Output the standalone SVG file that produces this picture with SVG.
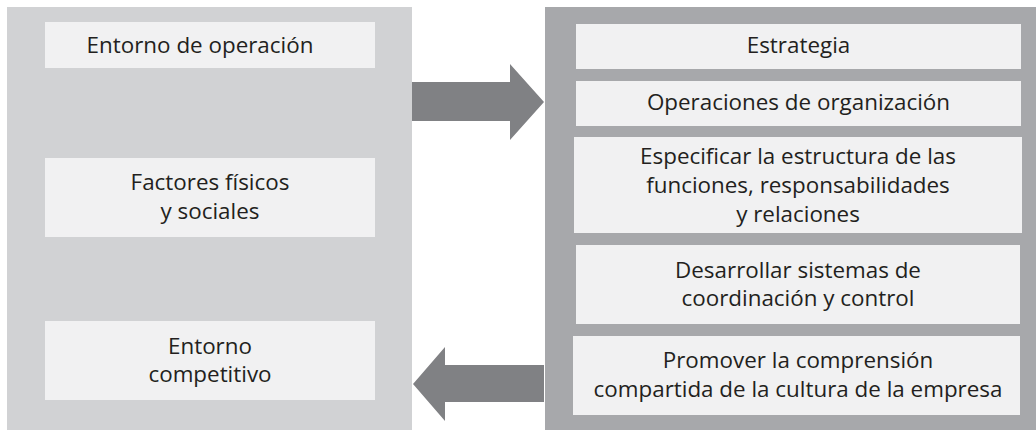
<svg xmlns="http://www.w3.org/2000/svg" width="1036" height="430" viewBox="0 0 1036 430">
<style>
.box{fill:#f1f1f2}
.t{font-family:"Open Sans","DejaVu Sans",sans-serif;font-size:22.4px;fill:#231f20;text-anchor:middle}
.arrow{fill:#808184}
</style>
<rect width="1036" height="430" fill="#ffffff"/>
<g id="left-panel">
<rect x="7" y="7" width="405" height="423" fill="#d1d2d4"/>
</g>
<g id="right-panel">
<rect x="545" y="7" width="491" height="423" fill="#a7a8ab"/>
</g>
<g id="n-entorno-operacion">
<rect class="box" x="45" y="22" width="330" height="46"/>
<text class="t" x="200" y="53">Entorno de operación</text>
</g>
<g id="n-factores">
<rect class="box" x="45" y="158" width="330" height="79"/>
<text class="t" x="210" y="190">Factores físicos</text>
<text class="t" x="210" y="219">y sociales</text>
</g>
<g id="n-entorno-competitivo">
<rect class="box" x="45" y="321" width="330" height="79"/>
<text class="t" x="210" y="354">Entorno</text>
<text class="t" x="210" y="382">competitivo</text>
</g>
<g id="n-estrategia">
<rect class="box" x="576" y="24" width="445" height="45"/>
<text class="t" x="798.5" y="53">Estrategia</text>
</g>
<g id="n-operaciones">
<rect class="box" x="576" y="81" width="445" height="45"/>
<text class="t" x="798.5" y="110">Operaciones de organización</text>
</g>
<g id="n-especificar">
<rect class="box" x="574" y="137" width="448" height="96"/>
<text class="t" x="798" y="164">Especificar la estructura de las</text>
<text class="t" x="798" y="193">funciones, responsabilidades</text>
<text class="t" x="798" y="222">y relaciones</text>
</g>
<g id="n-desarrollar">
<rect class="box" x="576" y="245" width="444" height="79"/>
<text class="t" x="798" y="278">Desarrollar sistemas de</text>
<text class="t" x="798" y="306">coordinación y control</text>
</g>
<g id="n-promover">
<rect class="box" x="573" y="336" width="447" height="79"/>
<text class="t" x="798" y="368">Promover la comprensión</text>
<text class="t" x="798" y="397">compartida de la cultura de la empresa</text>
</g>
<g id="connectors">
<polygon class="arrow" points="412,82 510,82 510,64 544,102 510,140 510,121 412,121"/>
<polygon class="arrow" points="544,365 445,365 445,347 413,384 445,421 445,402 544,402"/>
</g>
</svg>
